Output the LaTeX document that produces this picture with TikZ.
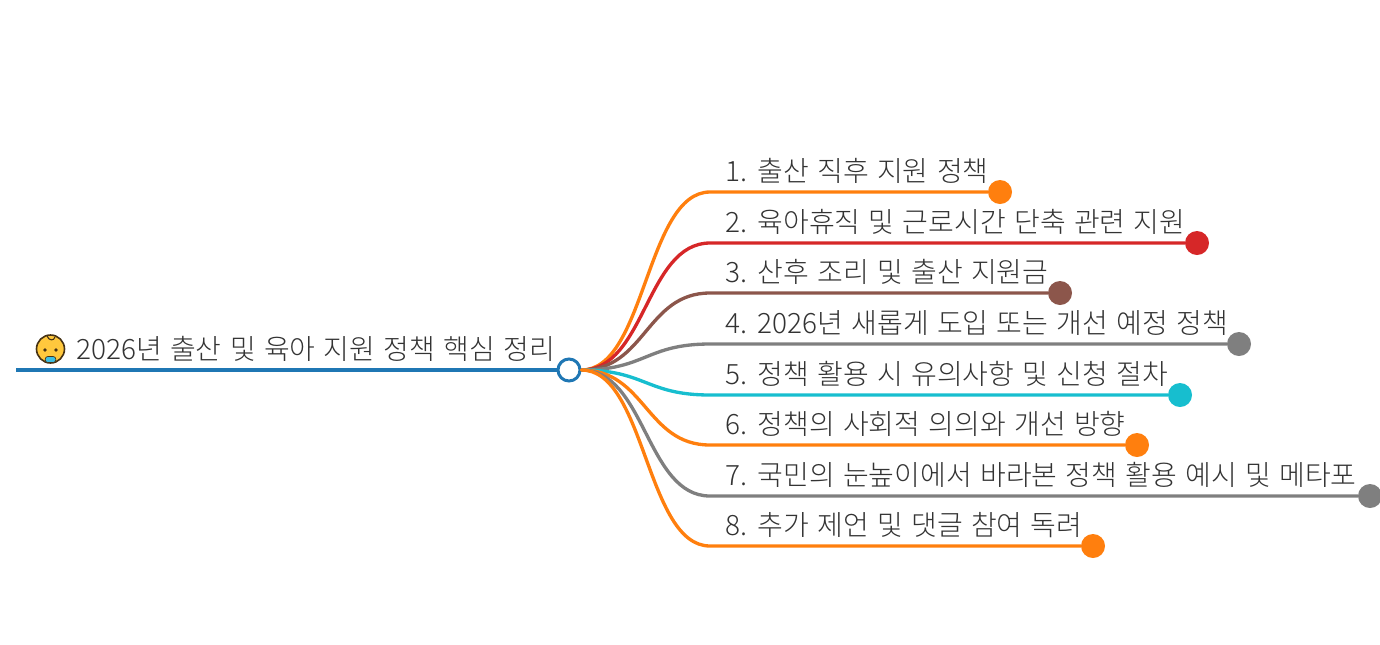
\documentclass[tikz,border=0pt]{standalone}
\usepackage{fontspec}
\usepackage{xcolor}
\usetikzlibrary{positioning}
\setmainfont[WordSpace=1.34]{Noto Sans CJK KR Light}
\definecolor{mmblue}{RGB}{31,119,180}
\definecolor{mmorange}{RGB}{255,127,14}
\definecolor{mmred}{RGB}{214,39,40}
\definecolor{mmbrown}{RGB}{140,86,75}
\definecolor{mmgray}{RGB}{127,127,127}
\definecolor{mmcyan}{RGB}{23,190,207}
\definecolor{mmtext}{RGB}{51,51,51}
\definecolor{babyskin}{RGB}{255,200,61}
\definecolor{babyline}{RGB}{70,50,20}
\definecolor{babypacifier}{RGB}{60,190,225}

\begin{document}
\begin{tikzpicture}[
            x=0.75pt, y=-0.75pt,
            label/.style={anchor=base west, inner sep=0pt, text=mmtext, font=\fontsize{21}{26}\selectfont},
            branch/.style={line width=2.5pt, line cap=round},
            enddot/.style={circle, minimum size=18pt, inner sep=0pt}
        ]
            \useasboundingbox (0,0) rectangle (1380,644);

            \coordinate (start) at (16,370);
            \node[circle, draw=mmblue, fill=white, line width=2.25pt, minimum size=16.5pt, inner sep=0pt] (root) at (569,370) {};
            \draw[mmblue, line width=3.3pt] (start) -- (root);

            % baby face
            \node[circle, draw=babyline, fill=babyskin, line width=1.2pt, minimum size=21pt, inner sep=0pt] (babyface) at (50.5,349) {};
            \fill[babyline] (45,350) circle (1.8) (56,350) circle (1.8);
            \draw[babyline, line width=0.8pt] (47,336) .. controls (49,341) and (54,341) .. (55,337);
            \node[draw=babyline, fill=babypacifier, rounded corners=2pt, line width=0.5pt, minimum width=8pt, minimum height=4.5pt, inner sep=0pt] (pacifier) at (50.5,359.5) {};

            \node[label] (title) at (76,359) {2026년 출산 및 육아 지원 정책 핵심 정리};

            \coordinate (bend1) at (710,192);
            \coordinate (bend2) at (710,243);
            \coordinate (bend3) at (710,293);
            \coordinate (bend4) at (710,344);
            \coordinate (bend5) at (710,395);
            \coordinate (bend6) at (710,445);
            \coordinate (bend7) at (710,496);
            \coordinate (bend8) at (710,546);

            \node[enddot, fill=mmorange] (dot1) at (1000,192) {};
            \node[enddot, fill=mmred] (dot2) at (1197,243) {};
            \node[enddot, fill=mmbrown] (dot3) at (1060,293) {};
            \node[enddot, fill=mmgray] (dot4) at (1239,344) {};
            \node[enddot, fill=mmcyan] (dot5) at (1180,395) {};
            \node[enddot, fill=mmorange] (dot6) at (1137,445) {};
            \node[enddot, fill=mmgray] (dot7) at (1370,496) {};
            \node[enddot, fill=mmorange] (dot8) at (1093,546) {};

            \draw[branch, mmorange] (root.east) .. controls +(64,0) and +(-64,0) .. (bend1) -- (dot1);
            \draw[branch, mmred] (root.east) .. controls +(64,0) and +(-64,0) .. (bend2) -- (dot2);
            \draw[branch, mmbrown] (root.east) .. controls +(64,0) and +(-64,0) .. (bend3) -- (dot3);
            \draw[branch, mmgray] (root.east) .. controls +(64,0) and +(-64,0) .. (bend4) -- (dot4);
            \draw[branch, mmcyan] (root.east) .. controls +(64,0) and +(-64,0) .. (bend5) -- (dot5);
            \draw[branch, mmorange] (root.east) .. controls +(64,0) and +(-64,0) .. (bend6) -- (dot6);
            \draw[branch, mmgray] (root.east) .. controls +(64,0) and +(-64,0) .. (bend7) -- (dot7);
            \draw[branch, mmorange] (root.east) .. controls +(64,0) and +(-64,0) .. (bend8) -- (dot8);

            \node[label] (item1) at (725,181.5) {1. 출산 직후 지원 정책};
            \node[label] (item2) at (725,232.5) {2. 육아휴직 및 근로시간 단축 관련 지원};
            \node[label] (item3) at (725,282.5) {3. 산후 조리 및 출산 지원금};
            \node[label] (item4) at (725,333.5) {4. 2026년 새롭게 도입 또는 개선 예정 정책};
            \node[label] (item5) at (725,384.5) {5. 정책 활용 시 유의사항 및 신청 절차};
            \node[label] (item6) at (725,434.5) {6. 정책의 사회적 의의와 개선 방향};
            \node[label] (item7) at (725,485.5) {7. 국민의 눈높이에서 바라본 정책 활용 예시 및 메타포};
            \node[label] (item8) at (725,535.5) {8. 추가 제언 및 댓글 참여 독려};
        \end{tikzpicture}
\end{document}
